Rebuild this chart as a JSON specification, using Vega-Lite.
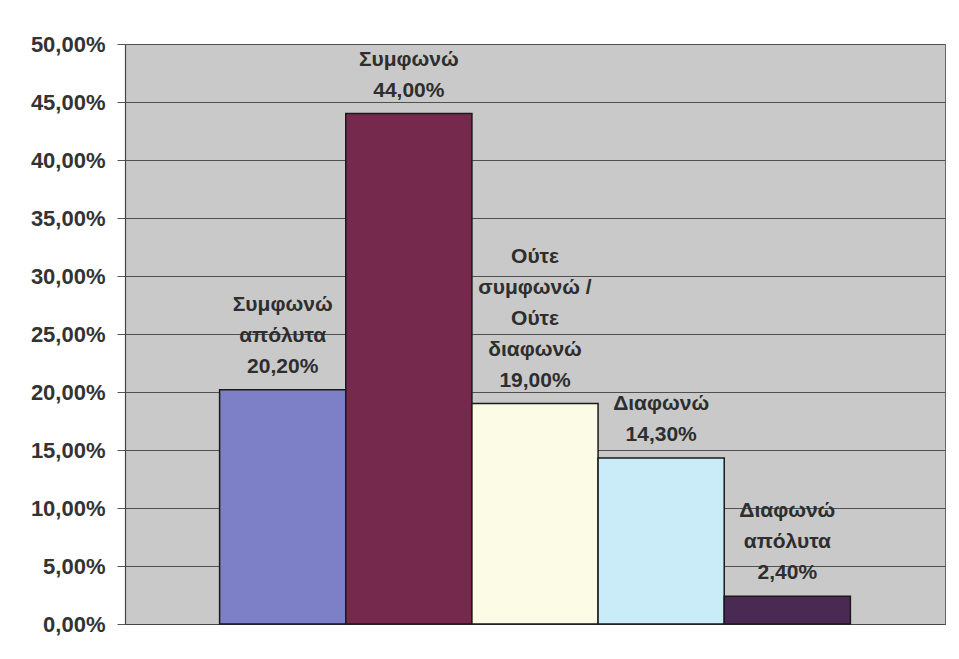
{
  "$schema": "https://vega.github.io/schema/vega-lite/v6.json",
  "width": 820,
  "height": 580,
  "autosize": {"type": "none"},
  "padding": {"left": 125, "top": 44, "right": 14, "bottom": 35},
  "background": "#ffffff",
  "config": {
    "view": {"fill": "#c9c9c9", "stroke": "#666666", "strokeWidth": 1},
    "font": "Liberation Sans"
  },
  "data": {
    "values": [
      {"cat": "Συμφωνώ απόλυτα", "value": 20.2, "label": ["Συμφωνώ", "απόλυτα", "20,20%"]},
      {"cat": "Συμφωνώ", "value": 44.0, "label": ["Συμφωνώ", "44,00%"]},
      {"cat": "Ούτε συμφωνώ / Ούτε διαφωνώ", "value": 19.0, "label": ["Ούτε", "συμφωνώ /", "Ούτε", "διαφωνώ", "19,00%"]},
      {"cat": "Διαφωνώ", "value": 14.3, "label": ["Διαφωνώ", "14,30%"]},
      {"cat": "Διαφωνώ απόλυτα", "value": 2.4, "label": ["Διαφωνώ", "απόλυτα", "2,40%"]}
    ]
  },
  "encoding": {
    "x": {
      "field": "cat", "type": "nominal", "sort": null,
      "scale": {"paddingInner": 0, "paddingOuter": 0.75},
      "axis": {"title": null, "labels": false, "ticks": false, "domain": true, "domainColor": "#444444", "domainWidth": 1.2, "grid": false}
    },
    "y": {
      "field": "value", "type": "quantitative",
      "scale": {"domain": [0, 50], "nice": false},
      "axis": {
        "title": null,
        "values": [0, 5, 10, 15, 20, 25, 30, 35, 40, 45, 50],
        "labelExpr": "replace(format(datum.value, '.2f'), '.', ',') + '%'",
        "labelFont": "Liberation Sans",
        "labelFontWeight": "bold",
        "labelFontSize": 22,
        "labelColor": "#333333",
        "labelPadding": 12,
        "tickSize": 8,
        "tickColor": "#555555",
        "domainColor": "#444444",
        "domainWidth": 1.2,
        "grid": true,
        "gridColor": "#505050",
        "gridWidth": 1
      }
    }
  },
  "layer": [
    {
      "mark": {"type": "bar", "stroke": "#1a1a1a", "strokeWidth": 1.5},
      "encoding": {
        "color": {
          "field": "cat", "type": "nominal", "sort": null, "legend": null,
          "scale": {
            "domain": ["Συμφωνώ απόλυτα", "Συμφωνώ", "Ούτε συμφωνώ / Ούτε διαφωνώ", "Διαφωνώ", "Διαφωνώ απόλυτα"],
            "range": ["#7d80c6", "#75294d", "#fcfce6", "#c9ecf8", "#4a2a52"]
          }
        }
      }
    },
    {
      "transform": [{"filter": "length(datum.label) == 2"}],
      "mark": {
        "type": "text", "baseline": "alphabetic", "align": "center", "dy": -48,
        "lineHeight": 31, "font": "Liberation Sans", "fontWeight": "bold",
        "fontSize": 21, "color": "#2e2e2e", "letterSpacing": 3
      },
      "encoding": {"text": {"field": "label"}}
    },
    {
      "transform": [{"filter": "length(datum.label) == 3"}],
      "mark": {
        "type": "text", "baseline": "alphabetic", "align": "center", "dy": -79,
        "lineHeight": 31, "font": "Liberation Sans", "fontWeight": "bold",
        "fontSize": 21, "color": "#2e2e2e", "letterSpacing": 3
      },
      "encoding": {"text": {"field": "label"}}
    },
    {
      "transform": [{"filter": "length(datum.label) == 5"}],
      "mark": {
        "type": "text", "baseline": "alphabetic", "align": "center", "dy": -141,
        "lineHeight": 31, "font": "Liberation Sans", "fontWeight": "bold",
        "fontSize": 21, "color": "#2e2e2e", "letterSpacing": 3
      },
      "encoding": {"text": {"field": "label"}}
    }
  ]
}
